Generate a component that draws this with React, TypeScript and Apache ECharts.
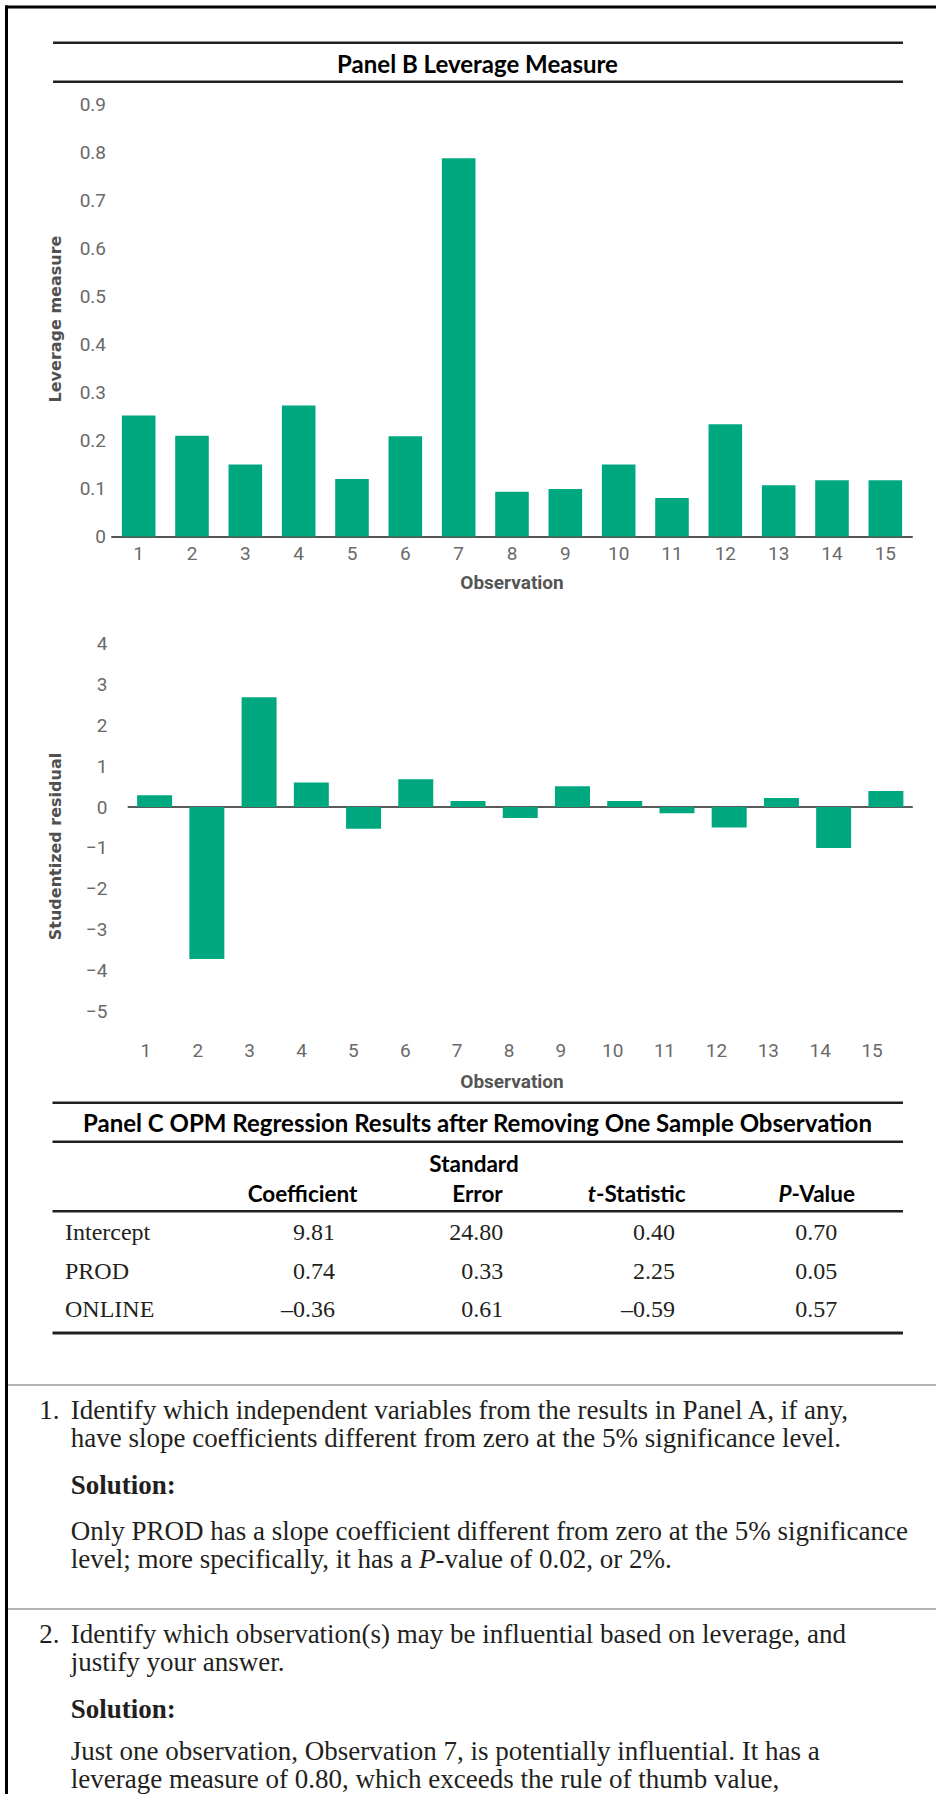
import React, { useEffect, useRef } from "react";
import * as echarts from "echarts";

// ---------- data ----------
const observations = ["1", "2", "3", "4", "5", "6", "7", "8", "9", "10", "11", "12", "13", "14", "15"];
const leverage = [0.252, 0.21, 0.15, 0.273, 0.12, 0.209, 0.788, 0.093, 0.099, 0.15, 0.08, 0.234, 0.107, 0.117, 0.117];
const residuals = [0.29, -3.71, 2.68, 0.6, -0.53, 0.68, 0.15, -0.27, 0.51, 0.15, -0.15, -0.5, 0.22, -1.0, 0.39];

const panelBTitle = "Panel B Leverage Measure";
const panelCTitle = "Panel C OPM Regression Results after Removing One Sample Observation";
const rowLabels = ["Intercept", "PROD", "ONLINE"];
const coefficient = ["9.81", "0.74", "\u20130.36"];
const stdError = ["24.80", "0.33", "0.61"];
const tStat = ["0.40", "2.25", "\u20130.59"];
const pValue = ["0.70", "0.05", "0.57"];

const section1 = [
  "Identify which independent variables from the results in Panel A, if any,",
  "have slope coefficients different from zero at the 5% significance level.",
];
const solution1 = [
  "Only PROD has a slope coefficient different from zero at the 5% significance",
  "{n|level; more specifically, it has a }{i|P}{n|-value of 0.02, or 2%.}",
];
const section2 = [
  "Identify which observation(s) may be influential based on leverage, and",
  "justify your answer.",
];
const solution2 = [
  "Just one observation, Observation 7, is potentially influential. It has a",
  "leverage measure of 0.80, which exceeds the rule of thumb value,",
];

const GREEN = "#00a87f";
const TICK = "#6a6a6a";
const INK = "#231f20";
const SANS_B = "Lato, 'Open Sans', sans-serif";
const SERIF = "'Liberation Serif', 'Times New Roman', serif";

function txt(x: number, y: number, text: string, o: any = {}) {
  const align = o.align || "left";
  const style: any = {
    text,
    fill: o.fill || INK,
    fontSize: o.fontSize || 27,
    fontFamily: o.fontFamily || SERIF,
    fontWeight: o.fontWeight || "normal",
    fontStyle: o.fontStyle || "normal",
    align,
    textAlign: align,
    verticalAlign: "middle",
    textVerticalAlign: "middle",
  };
  if (o.rich) style.rich = o.rich;
  return { type: "text", x, y, rotation: o.rotation || 0, style, silent: true };
}

function hline(x1: number, x2: number, y: number, h: number, fill: string) {
  return { type: "rect", shape: { x: x1, y: y - h / 2, width: x2 - x1, height: h }, style: { fill }, silent: true };
}

export default function App() {
  const ref = useRef<HTMLDivElement>(null);
  useEffect(() => {
    document.body.style.margin = "0";
    const chart = echarts.init(ref.current!, null, { renderer: "svg" });

    const g: any[] = [];
    // outer frame (top + left)
    g.push({ type: "rect", shape: { x: 5, y: 5.5, width: 931, height: 3 }, style: { fill: "#000" }, silent: true });
    g.push({ type: "rect", shape: { x: 5, y: 5.5, width: 3, height: 1790 }, style: { fill: "#000" }, silent: true });

    // Panel B title
    g.push(hline(53, 903, 42.7, 2.5, INK));
    g.push(hline(53, 903, 81.7, 2.5, INK));
    g.push(txt(477.5, 63.5, panelBTitle, { align: "center", fontFamily: SANS_B, fontWeight: "bold", fontSize: 24, fill: "#000" }));

    // axis titles
    const axTitle = { align: "center", fontFamily: "'DejaVu Sans', sans-serif", fontWeight: "bold", fontSize: 16, fill: "#505050" };
    g.push(txt(55, 319, "Leverage measure", { ...axTitle, rotation: Math.PI / 2 }));
    g.push(txt(55, 846.5, "Studentized residual", { ...axTitle, rotation: Math.PI / 2 }));
    const obsTitle = { align: "center", fontFamily: "Roboto, sans-serif", fontWeight: "bold", fontSize: 19, fill: "#555" };
    g.push(txt(512, 582, "Observation", obsTitle));
    g.push(txt(512, 1081.7, "Observation", obsTitle));

    // Panel C table
    g.push(hline(52.5, 903, 1102.7, 2.5, INK));
    g.push(hline(52.5, 903, 1141.7, 2.5, INK));
    g.push(hline(52.5, 903, 1211.3, 2.5, INK));
    g.push(hline(52.5, 903, 1333, 3, INK));
    g.push(txt(477.5, 1122.5, panelCTitle, { align: "center", fontFamily: SANS_B, fontWeight: "bold", fontSize: 24, fill: "#000" }));
    const head = { align: "center", fontFamily: SANS_B, fontWeight: "bold", fontSize: 22.5, fill: "#000" };
    g.push(txt(474, 1163, "Standard", head));
    g.push(txt(302.5, 1193.3, "Coefficient", head));
    g.push(txt(477.5, 1193.3, "Error", head));
    const richHead = {
      b: { fontFamily: SANS_B, fontWeight: "bold", fontSize: 22.5, fill: "#000" },
      i: { fontFamily: SANS_B, fontWeight: "bold", fontStyle: "italic", fontSize: 22.5, fill: "#000" },
    };
    g.push(txt(636.7, 1193.3, "{i|t}{b|-Statistic}", { ...head, rich: richHead }));
    g.push(txt(816.7, 1193.3, "{i|P}{b|-Value}", { ...head, rich: richHead }));
    const rowY = [1232, 1270.8, 1309];
    const cell = { fontSize: 24, fontFamily: SERIF, fill: INK };
    rowLabels.forEach((r, i) => {
      g.push(txt(65, rowY[i], r, cell));
      g.push(txt(335, rowY[i], coefficient[i], { ...cell, align: "right" }));
      g.push(txt(503.3, rowY[i], stdError[i], { ...cell, align: "right" }));
      g.push(txt(675, rowY[i], tStat[i], { ...cell, align: "right" }));
      g.push(txt(837.3, rowY[i], pValue[i], { ...cell, align: "right" }));
    });

    // Question sections
    g.push(hline(8, 936, 1385, 2, "#b4b4b4"));
    g.push(hline(8, 936, 1609, 2, "#b4b4b4"));
    const para = { fontSize: 27, fontFamily: SERIF, fill: INK };
    const richPara = {
      n: { fontSize: 27, fontFamily: SERIF, fill: INK },
      i: { fontSize: 27, fontFamily: SERIF, fill: INK, fontStyle: "italic" },
    };
    g.push(txt(39.3, 1410, "1.", para));
    g.push(txt(70.7, 1410, section1[0], para));
    g.push(txt(70.7, 1438, section1[1], para));
    g.push(txt(70.7, 1485, "Solution:", { ...para, fontWeight: "bold" }));
    g.push(txt(70.7, 1531, solution1[0], para));
    g.push(txt(70.7, 1559, solution1[1], { ...para, rich: richPara }));
    g.push(txt(39.3, 1634, "2.", para));
    g.push(txt(70.7, 1634, section2[0], para));
    g.push(txt(70.7, 1662, section2[1], para));
    g.push(txt(70.7, 1709, "Solution:", { ...para, fontWeight: "bold" }));
    g.push(txt(70.7, 1751, solution2[0], para));
    g.push(txt(70.7, 1779, solution2[1], para));

    const tickLabel = { color: TICK, fontSize: 19, fontFamily: "Roboto, sans-serif" };

    const option: any = {
      animation: false,
      grid: [
        { left: 112, top: 104.5, width: 800, height: 432, containLabel: false, outerBoundsMode: "none" },
        { left: 128.5, top: 643.3, width: 783.5, height: 368.4, containLabel: false, outerBoundsMode: "none" },
        { left: 120, top: 643.3, width: 778, height: 368.4, containLabel: false, outerBoundsMode: "none" },
      ],
      xAxis: [
        {
          gridIndex: 0,
          type: "category",
          data: observations,
          axisLine: { lineStyle: { color: "#555", width: 2 } },
          axisTick: { show: false },
          axisLabel: { ...tickLabel, margin: 7 },
          splitLine: { show: false },
        },
        {
          gridIndex: 1,
          type: "category",
          data: observations,
          axisLine: { onZero: true, lineStyle: { color: "#5a5a5a", width: 2 } },
          axisTick: { show: false },
          axisLabel: { show: false },
          splitLine: { show: false },
        },
        {
          gridIndex: 2,
          type: "category",
          data: observations,
          axisLine: { show: false },
          axisTick: { show: false },
          axisLabel: { ...tickLabel, margin: 29 },
          splitLine: { show: false },
        },
      ],
      yAxis: [
        {
          gridIndex: 0,
          type: "value",
          min: 0,
          max: 0.9,
          interval: 0.1,
          axisLine: { show: false },
          axisTick: { show: false },
          splitLine: { show: false },
          axisLabel: {
            ...tickLabel,
            margin: 6,
            formatter: (v: number) => (Math.abs(v) < 1e-9 ? "0" : v.toFixed(1)),
          },
        },
        {
          gridIndex: 1,
          type: "value",
          min: -5,
          max: 4,
          interval: 1,
          axisLine: { show: false },
          axisTick: { show: false },
          splitLine: { show: false },
          axisLabel: {
            ...tickLabel,
            margin: 21,
            formatter: (v: number) => (v < 0 ? "\u2212" + Math.abs(v) : String(v)),
          },
        },
        {
          gridIndex: 2,
          type: "value",
          min: -5,
          max: 4,
          interval: 1,
          show: false,
        },
      ],
      series: [
        {
          type: "bar",
          xAxisIndex: 0,
          yAxisIndex: 0,
          data: leverage,
          barCategoryGap: "37%",
          itemStyle: { color: GREEN },
          silent: true,
        },
        {
          type: "bar",
          xAxisIndex: 1,
          yAxisIndex: 1,
          data: residuals,
          barCategoryGap: "33%",
          itemStyle: { color: GREEN },
          silent: true,
        },
      ],
      graphic: g,
    };
    chart.setOption(option);
    return () => chart.dispose();
  }, []);
  return <div ref={ref} style={{ width: 936, height: 1794, background: "#fff" }} />;
}
